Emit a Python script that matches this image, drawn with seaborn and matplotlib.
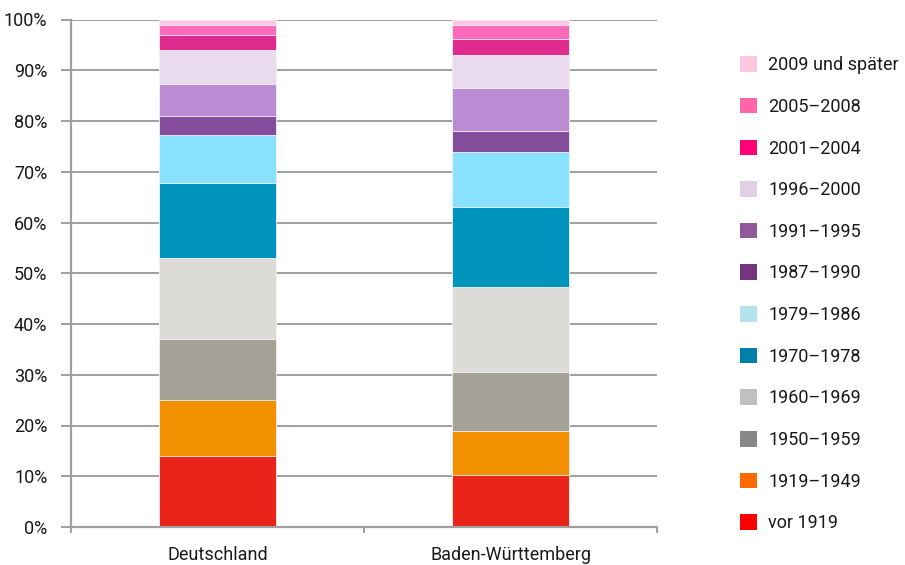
import numpy as np
import pandas as pd
import matplotlib
matplotlib.use("Agg")
import matplotlib.pyplot as plt
import seaborn as sns
from matplotlib.patches import Patch
from matplotlib.ticker import FixedLocator

regions = ["Deutschland", "Baden-Württemberg"]
periods = ["vor 1919", "1919–1949", "1950–1959", "1960–1969", "1970–1978",
           "1979–1986", "1987–1990", "1991–1995", "1996–2000", "2001–2004",
           "2005–2008", "2009 und später"]
deutschland = [13.9, 11.1, 12.1, 16.0, 14.6, 9.6, 3.6, 6.3, 6.7, 3.0, 2.1, 1.0]
baden_wuerttemberg = [10.3, 8.6, 11.6, 16.7, 15.9, 10.7, 4.3, 8.4, 6.5, 3.1, 2.9, 1.0]
yticks = [0, 10, 20, 30, 40, 50, 60, 70, 80, 90, 100]

bar_colors = ["#EA2418", "#F39000", "#A4A296", "#DCDBD7", "#0093BB", "#88E1FF",
              "#834D9B", "#BB8CD3", "#E9DAEE", "#E02C8E", "#FF6BBB", "#FFC6E4"]
legend_colors = ["#FF0000", "#FF6A00", "#888888", "#C0C0C0", "#0080A8", "#B3E4EE",
                 "#733580", "#905898", "#E0D0E6", "#FF0077", "#FF66AA", "#FFC6E0"]

sns.set_theme(style="white")
plt.rcParams["font.family"] = ["Roboto", "DejaVu Sans"]

rows = []
for reg, vals in zip(regions, [deutschland, baden_wuerttemberg]):
    cum = np.cumsum(vals)
    for p, c in zip(periods, cum):
        rows.append({"region": reg, "period": p, "top": c})
df = pd.DataFrame(rows)

fig = plt.figure(figsize=(9.05, 5.65), dpi=100)
ax = fig.add_axes([71/905, 1-527/565, (657-71)/905, (527-19.5)/565])

grid_c = "#A0A0A0"
for y in yticks[1:]:
    ax.axhline(y, color=grid_c, lw=1.4, zorder=0)

for i in range(len(periods) - 1, -1, -1):
    sub = df[df["period"] == periods[i]]
    sns.barplot(data=sub, x="region", y="top", order=regions, color=bar_colors[i],
                width=0.4, ax=ax, saturation=1, linewidth=0.6, edgecolor="#f4f4f4",
                zorder=2)

fs = 13
txt_c = "#1a1a1a"
ax.set_ylim(0, 100)
ax.set_xlim(-0.5, 1.5)
ax.set_yticks(yticks)
ax.set_yticklabels([f"{v}%" for v in yticks], fontsize=fs, color=txt_c)
ax.set_xlabel("")
ax.set_ylabel("")
ax.tick_params(axis="x", which="major", length=0, pad=14, labelsize=fs, labelcolor=txt_c)
ax.xaxis.set_minor_locator(FixedLocator([-0.5, 0.5, 1.5]))
ax.tick_params(axis="x", which="minor", length=4, width=1.4, color=grid_c, direction="out", bottom=True)
ax.tick_params(axis="y", which="major", length=7, width=1.4, color=grid_c, direction="out", left=True, pad=10)

for s in ["top", "right"]:
    ax.spines[s].set_visible(False)
for s in ["left", "bottom"]:
    ax.spines[s].set_color(grid_c)
    ax.spines[s].set_linewidth(1.6)

handles = [Patch(facecolor=legend_colors[i], edgecolor="none", label=periods[i])
           for i in range(len(periods) - 1, -1, -1)]
leg = fig.legend(handles=handles, loc="upper left", bbox_to_anchor=(733/905, 1-49/565),
                 frameon=False, fontsize=fs, handlelength=0.95, handleheight=0.95,
                 handletextpad=0.6, labelspacing=1.31, borderaxespad=0,
                 labelcolor=txt_c)

fig.savefig("out.png", dpi=100)
